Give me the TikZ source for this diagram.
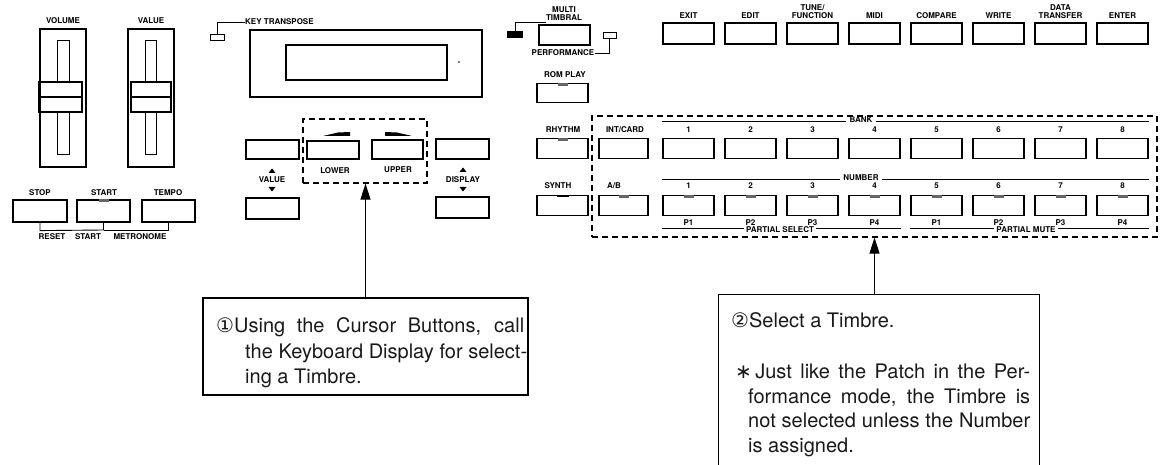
\documentclass[tikz,border=0pt]{standalone}
\usepackage{fontspec}
\setmainfont{TeX Gyre Heros}
\newfontfamily\symf{DejaVu Sans}
\usetikzlibrary{arrows.meta,calc}
\tikzset{
 btn/.style={draw, line width=1.2pt, minimum width=51pt, minimum height=20pt, inner sep=0pt},
 lbl/.style={font=\fontsize{8}{8}\selectfont\bfseries, inner sep=0pt, align=center},
 ctext/.style={font=\fontsize{20}{25}\selectfont, inner sep=0pt, anchor=base west, text=black!90},
 dbox/.style={draw, dash pattern=on 6pt off 4pt, line width=1.2pt, inner sep=0pt},
 callarrow/.style={line width=1.1pt, -{Triangle[length=16pt,width=10pt]}},
 frame/.style={draw, line width=1.5pt, inner sep=0pt},
 thinline/.style={line width=0.9pt},
}
\newcommand\uptri[2]{\fill ({#1-3.5},{#2+2}) -- ({#1+3.5},{#2+2}) -- (#1,{#2-2.5}) -- cycle;}
\newcommand\dntri[2]{\fill ({#1-3.5},{#2-2}) -- ({#1+3.5},{#2-2}) -- (#1,{#2+2.5}) -- cycle;}
\newcommand\notch[1]{\fill[black!60] ($(#1.north)+(-5,0)$) rectangle ($(#1.north)+(5,3)$);}
\begin{document}
\begin{tikzpicture}[x=1pt,y=-1pt]
\useasboundingbox (0,0) rectangle (1164,465);
% ---------- sliders
\node[lbl] (volL) at (63,21) {VOLUME};
\node[frame, minimum width=46pt, minimum height=138pt] (volF) at (63,98) {};
\node[draw, line width=1pt, minimum width=12pt, minimum height=114pt, inner sep=0] (volT) at (63,98) {};
\node[frame, fill=white, minimum width=42pt, minimum height=30pt] (volK) at (61,97) {};
\draw[line width=3pt] (volK.north west) -- (volK.south west);
\draw[line width=2.5pt] (volK.west) -- (volK.east);
\node[lbl] (valL) at (151,21) {VALUE};
\node[frame, minimum width=46pt, minimum height=138pt] (valF) at (151,98) {};
\node[draw, line width=1pt, minimum width=11pt, minimum height=114pt, inner sep=0] (valT) at (151,98) {};
\node[frame, fill=white, minimum width=40pt, minimum height=30pt] (valK) at (151,97) {};
\draw[line width=2.5pt] (valK.west) -- (valK.east);
% ---------- stop start tempo
\node[lbl] (stopL) at (40,193) {STOP};
\node[lbl] (startL) at (104,193) {START};
\node[lbl] (tempoL) at (168,193) {TEMPO};
\node[btn, minimum width=54pt, minimum height=22pt] (stop) at (40,211) {};
\node[btn, minimum width=53pt, minimum height=22pt] (start) at (103.5,211) {};
\node[btn, minimum width=53pt, minimum height=22pt] (tempo) at (168.5,211) {};
\notch{start}
\draw[thinline] (stop.south) -- ++(0,8) -- (start.south |- 0,230) -- (start.south);
\draw[thinline] (start.south |- 0,230) -- (tempo.south |- 0,230) -- (tempo.south);
\node[lbl, fill=white, inner xsep=2pt] (resetL) at (52,237) {RESET};
\node[lbl, fill=white, inner xsep=2pt] (start2L) at (88,237) {START};
\node[lbl, fill=white, inner xsep=2pt] (metroL) at (140,237) {METRONOME};
% ---------- key transpose & display
\node[draw, line width=1pt, minimum width=14pt, minimum height=6pt, inner sep=0] (kt) at (217,38) {};
\node[lbl, anchor=west] (ktL) at (245,22) {KEY TRANSPOSE};
\draw[thinline] (kt.north) |- (ktL.west);
\node[draw, line width=2pt, minimum width=232pt, minimum height=67pt, inner sep=0] (disp) at (366,63.5) {};
\node[draw, line width=1.3pt, minimum width=161pt, minimum height=35pt, inner sep=0] (dispin) at (366.5,62.5) {};
\fill (459,62) circle (0.8pt);
% ---------- multi timbral
\node[lbl] (mtL) at (564,14) {MULTI\\TIMBRAL};
\node[btn, minimum height=20pt] (mt) at (564.5,35) {};
\node[draw, fill=black, minimum width=15pt, minimum height=6pt, inner sep=0] (mtled) at (515,34.5) {};
\draw[thinline] (mtled.north) |- (mtL.west |- 0,22);
\node[draw, line width=1pt, minimum width=13pt, minimum height=6pt, inner sep=0] (pfled) at (609.5,35.5) {};
\node[lbl] (pfL) at (563,53) {PERFORMANCE};
\draw[thinline] (pfled.south) |- (pfL.east);
% ---------- rom play, rhythm, synth
\node[lbl] (romL) at (565,75) {ROM PLAY};
\node[btn, minimum height=19pt] (rom) at (562.5,93) {};
\notch{rom}
\node[lbl] (rhyL) at (563,130) {RHYTHM};
\node[btn] (rhy) at (562.5,148.5) {};
\notch{rhy}
\node[lbl] (synL) at (558,186) {SYNTH};
\node[btn] (syn) at (562.5,205.5) {};
\fill ($(syn.north)+(-6,0)$) rectangle ($(syn.north)+(6,2.5)$);
\node[lbl] (icL) at (625,130) {INT/CARD};
\node[btn, minimum width=49pt] (ic) at (623.5,148.5) {};
\node[lbl] (abL) at (614,186) {A/B};
\node[btn, minimum width=49pt] (ab) at (623.5,205.5) {};
\notch{ab}
% ---------- top row
\foreach \n/\t [count=\i] in {exit/EXIT,edit/EDIT,tune/{TUNE/\\FUNCTION},midi/MIDI,comp/COMPARE,write/WRITE,data/{DATA\\TRANSFER},enter/ENTER}{
  \node[btn, minimum height=21pt] (\n) at ({626.5+62*\i},33.5) {};
  \node[lbl, anchor=south] (\n L) at ({626.5+62*\i},18.5) {\t};
}
% ---------- bank / number
\foreach \i in {1,...,8}{
  \node[btn] (bank\i) at ({626.5+62*\i},148.5) {};
  \node[lbl] (bankL\i) at ({626.5+62*\i},130) {\i};
  \node[btn] (num\i) at ({626.5+62*\i},205.5) {};
  \notch{num\i}
  \node[lbl] (numL\i) at ({626.5+62*\i},186) {\i};
}
\foreach \i/\p in {1/1,2/2,3/3,4/4,5/1,6/2,7/3,8/4}{
  \node[lbl] (pL\i) at ({626.5+62*\i},223) {P\p};
}
\node[lbl, inner xsep=3pt] (bankT) at (861,120) {BANK};
\draw[thinline] (bank1.west |- 0,121) -- (bankT.west |- 0,121);
\draw[thinline] (bankT.east |- 0,121) -- (bank8.east |- 0,121);
\node[lbl, inner xsep=3pt] (numT) at (861,178) {NUMBER};
\draw[thinline] (num1.west |- 0,179) -- (numT.west |- 0,179);
\draw[thinline] (numT.east |- 0,179) -- (num8.east |- 0,179);
\node[lbl, inner xsep=2pt] (psT) at (780,230) {PARTIAL SELECT};
\draw[thinline] (num1.west |- 0,228) -- (psT.west |- 0,228);
\draw[thinline] (psT.east |- 0,228) -- (num4.east |- 0,228);
\node[lbl, inner xsep=2pt] (pmT) at (1026,230) {PARTIAL MUTE};
\draw[thinline] (num5.west |- 0,228) -- (pmT.west |- 0,228);
\draw[thinline] (pmT.east |- 0,228) -- (num8.east |- 0,228);
\node[dbox, minimum width=565pt, minimum height=121pt] (sel) at (874.5,176.5) {};
% ---------- cursor area
\node[btn, minimum width=53pt, minimum height=19pt] (vup) at (272.5,149.5) {};
\node[btn, minimum width=53pt, minimum height=21pt] (vdn) at (272.5,208.5) {};
\node[lbl] (vL) at (272,180) {VALUE};
\uptri{272}{171}
\dntri{272}{189}
\node[btn, minimum width=52pt, minimum height=18pt] (lower) at (333,150) {};
\node[btn, minimum width=51pt, minimum height=19pt] (upper) at (397.5,149.5) {};
\fill (323,136) -- (350,136) -- (350,132) -- (338,132.5) -- cycle;
\fill (412,136) -- (385,136) -- (385,132) -- (397,132.5) -- cycle;
\node[lbl] (lowL) at (335,171) {LOWER};
\node[lbl] (upL) at (398,170) {UPPER};
\node[dbox, minimum width=124pt, minimum height=64pt] (cur) at (365,151) {};
\node[btn, minimum width=53pt, minimum height=20pt] (dup) at (462.5,149) {};
\node[btn, minimum width=53pt, minimum height=21pt] (ddn) at (462.5,207.5) {};
\node[lbl] (dL) at (463,180) {DISPLAY};
\uptri{463}{170}
\dntri{463}{189}
% ---------- callout 1
\node[draw, line width=1.2pt, minimum width=325pt, minimum height=97pt, inner sep=0] (call1) at (365.5,346.5) {};
\draw[callarrow] (call1.north) -- (call1.north |- cur.south);
\node[ctext] (c1a) at (216,332) {\makebox[308pt][s]{{\symf ①}Using the Cursor Buttons, call}};
\node[ctext] (c1b) at (245,358) {\makebox[282pt][s]{the Keyboard Display for select-}};
\node[ctext] (c1c) at (245,383) {ing a Timbre.};
% ---------- callout 2
\node[minimum width=320pt, minimum height=170pt, inner sep=0] (call2) at (879,380) {};
\draw[line width=1.2pt] (call2.south west) -- (call2.north west) -- (call2.north east) -- (call2.south east);
\draw[callarrow] (call2.north -| sel.south) -- (sel.south);
\node[ctext] (c2a) at (731,327) {{\symf ②}Select a Timbre.};
\node[ctext] (c2b) at (735,378) {\makebox[295pt][s]{{\symf ∗}\,Just like the Patch in the Per-}};
\node[ctext] (c2c) at (748,403) {\makebox[282pt][s]{formance mode, the Timbre is}};
\node[ctext] (c2d) at (748,427) {\makebox[282pt][s]{not selected unless the Number}};
\node[ctext] (c2e) at (748,452) {is assigned.};
\end{tikzpicture}
\end{document}
